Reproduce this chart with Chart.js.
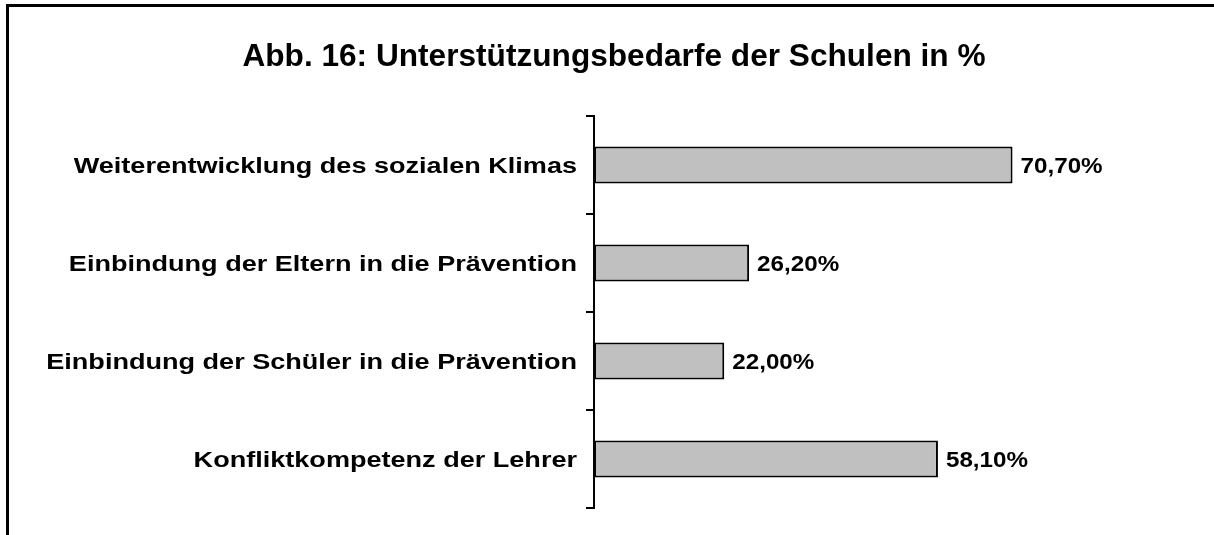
<!DOCTYPE html>
<html>
<head>
<meta charset="utf-8">
<script src="https://cdn.jsdelivr.net/npm/chart.js@4/dist/chart.umd.min.js"></script>
<style>
  html, body { margin: 0; padding: 0; background: #fff; overflow: hidden; }
  #chart { position: absolute; left: 0; top: 0; }
  .frame {
    position: absolute; left: 6px; top: 4px;
    width: 1300px; height: 600px;
    border: 3px solid #000; pointer-events: none;
  }
</style>
</head>
<body>
<canvas id="chart" width="1214" height="535"></canvas>
<div class="frame"></div>
<script>
  const title = 'Abb. 16: Unterstützungsbedarfe der Schulen in %';
  const categories = [
    'Weiterentwicklung des sozialen Klimas',
    'Einbindung der Eltern in die Prävention',
    'Einbindung der Schüler in die Prävention',
    'Konfliktkompetenz der Lehrer',
  ];
  const values = [70.7, 26.2, 22.0, 58.1];
  const xMin = 0;
  const xMax = 100;

  const FONT = "'Liberation Sans', Arial, sans-serif";

  const formatValue = (v) => `${v.toFixed(2).replace('.', ',')}%`;

  // text in the reference looks horizontally stretched, so draw it with a scale
  const drawText = (ctx, text, x, y, align, sx) => {
    ctx.save();
    ctx.translate(x, y);
    ctx.scale(sx, 1);
    ctx.textAlign = align;
    ctx.textBaseline = 'alphabetic';
    ctx.fillText(text, 0, 0);
    ctx.restore();
  };

  const labelPlugin = {
    id: 'labels',
    afterDraw(chart) {
      const { ctx } = chart;
      const yScale = chart.scales.y;
      const meta = chart.getDatasetMeta(0);

      ctx.save();
      ctx.fillStyle = '#000';

      ctx.font = `bold 31px ${FONT}`;
      drawText(ctx, title, 614, 66, 'center', 1.02);

      ctx.font = `bold 22px ${FONT}`;
      categories.forEach((label, i) => {
        const y = yScale.getPixelForValue(i);
        drawText(ctx, label, 577, y + 8, 'right', 1.23);
      });

      meta.data.forEach((bar, i) => {
        drawText(ctx, formatValue(values[i]), bar.x + 8, bar.y + 8, 'left', 1.1);
      });
      ctx.restore();
    },
  };

  new Chart(document.getElementById('chart'), {
    type: 'bar',
    data: {
      labels: categories,
      datasets: [
        {
          data: values,
          backgroundColor: '#c0c0c0',
          borderColor: '#000',
          borderWidth: 2,
          borderSkipped: false,
          categoryPercentage: 1,
          barPercentage: 0.38,
        },
      ],
    },
    options: {
      indexAxis: 'y',
      responsive: false,
      animation: false,
      devicePixelRatio: 1,
      layout: { padding: { left: 0, right: 28, top: 116, bottom: 27 } },
      plugins: {
        legend: { display: false },
        title: { display: false },
        tooltip: { enabled: false },
      },
      scales: {
        x: {
          display: false,
          min: xMin,
          max: xMax,
        },
        y: {
          afterFit: (scale) => {
            scale.width = 594;
          },
          border: { display: true, color: '#000', width: 2 },
          grid: {
            offset: true,
            drawOnChartArea: false,
            drawTicks: true,
            tickLength: 8,
            color: '#000',
            lineWidth: 2,
          },
          ticks: { display: false },
        },
      },
    },
    plugins: [labelPlugin],
  });
</script>
</body>
</html>
